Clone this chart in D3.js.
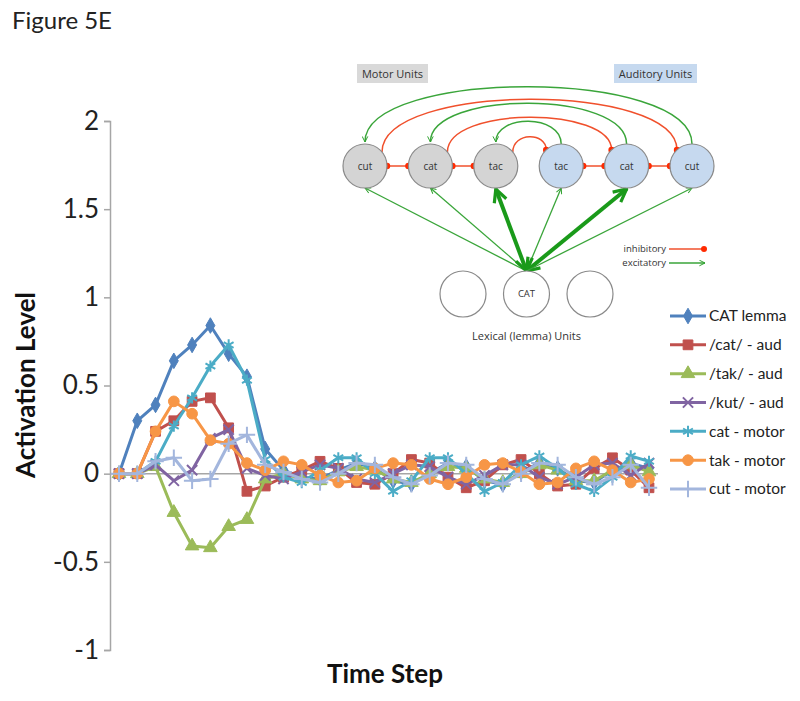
<!DOCTYPE html>
<html>
<head>
<meta charset="utf-8">
<script src="https://cdn.jsdelivr.net/npm/d3@7"></script>
<style>
  body { margin: 0; background: #fff; }
  svg { font-family: Lato, "Open Sans", sans-serif; }
</style>
</head>
<body>
<svg width="800" height="701"></svg>
<script>
// values, one per time step
const seriesNames = ['CAT lemma', '/cat/ - aud', '/tak/ - aud', '/kut/ - aud', 'cat - motor', 'tak - motor', 'cut - motor'];
const catLemma = [0, 0.30, 0.39, 0.64, 0.73, 0.84, 0.68, 0.55, 0.14, 0.02, -0.02, -0.03, 0.02, 0.06, 0.03, -0.04, -0.06, 0.00, 0.06, 0.04, -0.04, -0.06, 0.01, 0.06, 0.03, -0.04, -0.05, 0.02, 0.06, 0.03];
const catAud = [0, 0, 0.24, 0.30, 0.41, 0.43, 0.26, -0.10, -0.07, -0.02, 0.02, 0.07, 0.03, -0.05, -0.06, 0.00, 0.08, 0.06, -0.02, -0.08, -0.04, 0.05, 0.08, 0.00, -0.07, -0.06, 0.03, 0.09, 0.02, -0.08];
const takAud = [0, 0, 0.04, -0.22, -0.41, -0.42, -0.30, -0.26, -0.03, 0.00, -0.03, -0.04, 0.01, 0.04, 0.02, -0.03, -0.05, 0.00, 0.04, 0.03, -0.03, -0.05, 0.00, 0.05, 0.02, -0.04, -0.04, 0.02, 0.05, 0.01];
const kutAud = [0, 0, 0.05, -0.04, 0.02, 0.20, 0.25, 0.03, -0.01, -0.03, 0.01, 0.05, 0.03, -0.03, -0.05, 0.00, 0.05, 0.04, -0.02, -0.06, -0.01, 0.05, 0.05, -0.02, -0.06, -0.02, 0.05, 0.06, -0.01, 0.06];
const catMotor = [0, 0, 0.07, 0.27, 0.43, 0.61, 0.73, 0.53, 0.08, -0.02, -0.05, 0.02, 0.09, 0.09, 0.00, -0.10, -0.04, 0.09, 0.09, 0.00, -0.10, -0.05, 0.05, 0.10, 0.03, -0.06, -0.10, -0.02, 0.10, 0.07];
const takMotor = [0, 0, 0.24, 0.41, 0.34, 0.19, 0.17, 0.06, 0.02, 0.07, 0.05, -0.01, -0.05, -0.04, 0.03, 0.06, 0.05, -0.03, -0.06, -0.02, 0.05, 0.06, 0.01, -0.06, -0.05, 0.03, 0.07, 0.02, -0.05, -0.03];
const cutMotor = [0, 0, 0.07, 0.09, -0.04, -0.03, 0.17, 0.22, 0.05, 0.01, -0.03, -0.05, 0.00, 0.06, 0.05, -0.02, -0.06, -0.01, 0.06, 0.05, -0.03, -0.06, 0.00, 0.06, 0.05, -0.02, -0.06, -0.02, 0.05, -0.08];
const yTicks = [-1, -0.5, 0, 0.5, 1, 1.5, 2];
const yTickLabels = ['-1', '-0.5', '0', '0.5', '1', '1.5', '2'];

// inset diagram labels
const motorUnits = ['cut', 'cat', 'tac'];
const auditoryUnits = ['tac', 'cat', 'cut'];
const lexicalUnits = ['', 'CAT', ''];

const allSeries = [catLemma, catAud, takAud, kutAud, catMotor, takMotor, cutMotor];
const colors = ['#4f81bd', '#c0504d', '#9bbb59', '#8064a2', '#4bacc6', '#f79646', '#a3b6dd'];
const symbols = [d3.symbolDiamond, d3.symbolSquare, d3.symbolTriangle, d3.symbolTimes, d3.symbolAsterisk, d3.symbolCircle, d3.symbolPlus];
const symSize = [70, 95, 80, 70, 90, 90, 90];
const stroked = [false, false, false, true, true, false, true];

const svg = d3.select('svg');

svg.append('text')
    .attr('x', 12).attr('y', 29)
    .attr('font-size', 24)
    .attr('fill', '#222')
    .text('Figure 5E');

const steps = catLemma.map((d, i) => i);

const x = d3.scalePoint()
    .domain(steps)
    .range([119, 649]);

const y = d3.scaleLinear()
    .domain([-1, 2])
    .range([650, 121]);

// y axis
const yAxisG = svg.append('g')
    .attr('transform', 'translate(110,0)')
    .call(d3.axisLeft(y).tickValues(yTicks).tickSize(6).tickPadding(5)
        .tickFormat((d, i) => yTickLabels[i]));
yAxisG.selectAll('.domain, .tick line').attr('stroke', '#a6a6a6').attr('stroke-width', 1.5);
yAxisG.selectAll('.tick text')
    .attr('font-size', 26)
    .attr('font-family', 'Lato, sans-serif')
    .attr('fill', '#222');

// zero baseline
svg.append('line')
    .attr('x1', 110).attr('x2', 658)
    .attr('y1', y(0)).attr('y2', y(0))
    .attr('stroke', '#a6a6a6').attr('stroke-width', 1.5);

svg.append('text')
    .attr('transform', `translate(35,${385}) rotate(-90)`)
    .attr('text-anchor', 'middle')
    .attr('font-size', 26)
    .attr('font-weight', 'bold')
    .attr('fill', '#111')
    .text('Activation Level');

svg.append('text')
    .attr('x', 385).attr('y', 683)
    .attr('text-anchor', 'middle')
    .attr('font-size', 26)
    .attr('font-weight', 'bold')
    .attr('fill', '#111')
    .text('Time Step');

// series
const line = d3.line()
    .x((d, i) => x(i))
    .y(d => y(d));

allSeries.forEach((vals, s) => {
    const g = svg.append('g');
    g.append('path')
        .datum(vals)
        .attr('d', line)
        .attr('fill', 'none')
        .attr('stroke', colors[s])
        .attr('stroke-width', 3)
        .attr('stroke-linejoin', 'round');
    g.selectAll('path.mk')
        .data(vals)
        .join('path')
        .attr('class', 'mk')
        .attr('transform', (d, i) => `translate(${x(i)},${y(d)})`)
        .attr('d', d3.symbol(symbols[s], symSize[s]))
        .attr('fill', stroked[s] ? 'none' : colors[s])
        .attr('stroke', colors[s])
        .attr('stroke-width', stroked[s] ? 2 : 1);
});

// legend
const legendY = d3.scalePoint().domain(seriesNames).range([316, 489]);
const legend = svg.append('g');
seriesNames.forEach((name, s) => {
    const ly = legendY(name);
    legend.append('line')
        .attr('x1', 670).attr('x2', 706)
        .attr('y1', ly).attr('y2', ly)
        .attr('stroke', colors[s]).attr('stroke-width', 3);
    legend.append('path')
        .attr('transform', `translate(688,${ly})`)
        .attr('d', d3.symbol(symbols[s], symSize[s]))
        .attr('fill', stroked[s] ? 'none' : colors[s])
        .attr('stroke', colors[s])
        .attr('stroke-width', stroked[s] ? 2 : 1);
    legend.append('text')
        .attr('x', 709).attr('y', ly)
        .attr('dy', '0.35em')
        .attr('font-size', 15.5)
        .attr('fill', '#222')
        .text(name);
});

// ---- inset diagram ----
const dg = svg.append('g').attr('font-family', '"Open Sans", sans-serif');
const defs = svg.append('defs');
defs.append('marker')
    .attr('id', 'ah').attr('viewBox', '0 0 10 10')
    .attr('refX', 9).attr('refY', 5)
    .attr('markerWidth', 7).attr('markerHeight', 7)
    .attr('markerUnits', 'userSpaceOnUse')
    .attr('orient', 'auto-start-reverse')
    .append('path').attr('d', 'M1,1 L9,5 L1,9').attr('fill', 'none')
    .attr('stroke', '#2ca02c').attr('stroke-width', 1.4);
defs.append('marker')
    .attr('id', 'ahBig').attr('viewBox', '0 0 10 10')
    .attr('refX', 9).attr('refY', 5)
    .attr('markerWidth', 16).attr('markerHeight', 16)
    .attr('markerUnits', 'userSpaceOnUse')
    .attr('orient', 'auto-start-reverse')
    .append('path').attr('d', 'M1,1 L9,5 L1,9').attr('fill', 'none')
    .attr('stroke', '#1a9a1a').attr('stroke-width', 2);

const green = '#3aa53a';
const red = '#f0502c';
const nodeX = d3.scalePoint()
    .domain(d3.range(6))
    .range([365, 692]);
const topY = 166, r = 22;
const lexX = d3.scalePoint().domain(d3.range(3)).range([463, 590]);
const lexY = 294;

// header boxes
[['Motor Units', 357, 71, '#d9d9d9'], ['Auditory Units', 614, 83, '#c6d9ef']].forEach(([t, bx, bw, c]) => {
    dg.append('rect').attr('x', bx).attr('y', 64).attr('width', bw).attr('height', 19).attr('fill', c);
    dg.append('text').attr('x', bx + bw / 2).attr('y', 77.5).attr('text-anchor', 'middle')
        .attr('font-size', 11).attr('fill', '#333').text(t);
});

// arcs between motor i and auditory mirrored
const arc = (x1, y1, x2, y2, peak) => {
    const p = d3.path();
    p.moveTo(x1, y1);
    p.bezierCurveTo(x1, peak, x2, peak, x2, y2);
    return p.toString();
};
const arcs = [
    // [fromX, fromY, toX, toY, peak, colour, type]
    [nodeX(2) + 17, topY - 14, nodeX(3) - 15, topY - 16, 132, red, 'dot'],
    [nodeX(3), topY - r, nodeX(2), topY - r - 2, 114, green, 'arrow'],
    [nodeX(1) + 17, topY - 14, nodeX(4) - 15, topY - 16, 106, red, 'dot'],
    [nodeX(4), topY - r, nodeX(1), topY - r - 2, 90, green, 'arrow'],
    [nodeX(0) + 17, topY - 14, nodeX(5) - 15, topY - 16, 82, red, 'dot'],
    [nodeX(5), topY - r, nodeX(0), topY - r - 2, 68, green, 'arrow']
];
arcs.forEach(([x1, y1, x2, y2, pk, c, t]) => {
    const pth = dg.append('path').attr('d', arc(x1, y1, x2, y2, pk))
        .attr('fill', 'none').attr('stroke', c).attr('stroke-width', 1.5);
    if (t === 'arrow') pth.attr('marker-end', 'url(#ah)');
    else dg.append('circle').attr('cx', x2).attr('cy', y2).attr('r', 3.2).attr('fill', '#ff2a00');
});

// lateral inhibitory links
[[0, 1], [1, 2], [3, 4], [4, 5]].forEach(([a, b]) => {
    const xa = nodeX(a) + r, xb = nodeX(b) - r;
    dg.append('line').attr('x1', xa).attr('x2', xb).attr('y1', topY).attr('y2', topY)
        .attr('stroke', red).attr('stroke-width', 1.5);
    [xa, xb].forEach(cx => dg.append('circle').attr('cx', cx).attr('cy', topY).attr('r', 3.2).attr('fill', '#ff2a00'));
});

// lexical to unit links
const hub = [lexX(1), lexY - r - 1];
d3.range(6).forEach(i => {
    const thick = i === 2 || i === 4;
    const ln = dg.append('line')
        .attr('x1', hub[0]).attr('y1', hub[1])
        .attr('x2', nodeX(i))
        .attr('y2', topY + r + (thick ? 1 : 0))
        .attr('stroke', thick ? '#1a9a1a' : green)
        .attr('stroke-width', thick ? 4 : 1.3);
    if (thick) ln.attr('marker-end', 'url(#ahBig)').attr('marker-start', 'url(#ahBig)');
    else ln.attr('marker-end', 'url(#ah)');
});

// unit circles
const units = motorUnits.concat(auditoryUnits);
units.forEach((u, i) => {
    dg.append('circle').attr('cx', nodeX(i)).attr('cy', topY).attr('r', r)
        .attr('fill', i < 3 ? '#d4d4d4' : '#c6d9ef')
        .attr('stroke', '#8a8a8a').attr('stroke-width', 1.2);
    dg.append('text').attr('x', nodeX(i)).attr('y', topY).attr('dy', '0.35em')
        .attr('text-anchor', 'middle').attr('font-size', 10).attr('fill', '#333').text(u);
});
lexicalUnits.forEach((u, i) => {
    dg.append('circle').attr('cx', lexX(i)).attr('cy', lexY).attr('r', r + 1)
        .attr('fill', '#fff').attr('stroke', '#8a8a8a').attr('stroke-width', 1.2);
    dg.append('text').attr('x', lexX(i)).attr('y', lexY).attr('dy', '0.35em')
        .attr('text-anchor', 'middle').attr('font-size', 9.5).attr('fill', '#333').text(u);
});
dg.append('text').attr('x', lexX(1)).attr('y', 340).attr('text-anchor', 'middle')
    .attr('font-size', 11).attr('fill', '#333').text('Lexical (lemma) Units');

// diagram key
dg.append('text').attr('x', 666).attr('y', 252).attr('text-anchor', 'end')
    .attr('font-size', 9.5).attr('fill', '#333').text('inhibitory');
dg.append('line').attr('x1', 669).attr('x2', 703).attr('y1', 249).attr('y2', 249)
    .attr('stroke', red).attr('stroke-width', 1.3);
dg.append('circle').attr('cx', 704).attr('cy', 249).attr('r', 3).attr('fill', '#ff2a00');
dg.append('text').attr('x', 666).attr('y', 266).attr('text-anchor', 'end')
    .attr('font-size', 9.5).attr('fill', '#333').text('excitatory');
dg.append('line').attr('x1', 669).attr('x2', 705).attr('y1', 263).attr('y2', 263)
    .attr('stroke', green).attr('stroke-width', 1.3).attr('marker-end', 'url(#ah)');
</script>
</body>
</html>
